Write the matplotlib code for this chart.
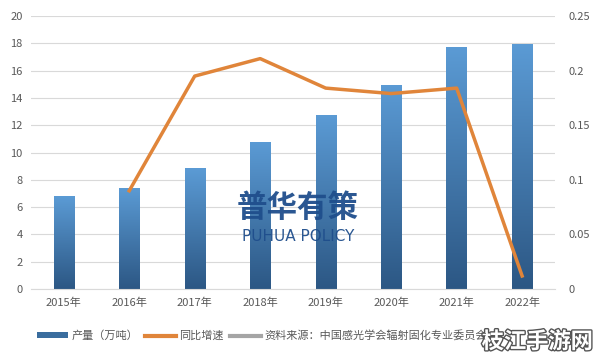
import matplotlib
matplotlib.use("Agg")
import matplotlib.pyplot as plt
import numpy as np
from matplotlib.lines import Line2D
from matplotlib.patches import Patch

plt.rcParams['font.family'] = ['Noto Sans CJK SC', 'DejaVu Sans']

years = ["2015年", "2016年", "2017年", "2018年", "2019年", "2020年", "2021年", "2022年"]
output = [6.8, 7.4, 8.85, 10.8, 12.75, 14.95, 17.75, 17.95]
growth_years = ["2016年", "2017年", "2018年", "2019年", "2020年", "2021年", "2022年"]
growth = [0.09, 0.195, 0.211, 0.184, 0.179, 0.184, 0.012]
left_ticks = [0, 2, 4, 6, 8, 10, 12, 14, 16, 18, 20]
right_ticks = [0, 0.05, 0.1, 0.15, 0.2, 0.25]
right_labels = ["0", "0.05", "0.1", "0.15", "0.2", "0.25"]

fig = plt.figure(figsize=(5.96, 3.56), dpi=100)
ax = fig.add_axes([0.052, 0.188, 0.879, 0.767])
x = np.arange(len(years))
bars = ax.bar(x, output, width=0.31, color='none', edgecolor='none', zorder=2)
ax.set_xlim(-0.5, len(years) - 0.5)
ax.set_ylim(0, 20)
grad = np.linspace(0, 1, 256).reshape(-1, 1)
from matplotlib.colors import LinearSegmentedColormap
cmap = LinearSegmentedColormap.from_list("g", ["#2c5784", "#5b9bd5"])
for b in bars:
    bx, by, bw, bh = b.get_x(), b.get_y(), b.get_width(), b.get_height()
    im = ax.imshow(grad, extent=[bx, bx + bw, by, by + bh], origin='lower',
                   cmap=cmap, aspect='auto', zorder=2)
    im.set_clip_path(b)
ax.set_xlim(-0.5, len(years) - 0.5)
ax.set_ylim(0, 20)
ax.set_yticks(left_ticks)
ax.set_xticks(x)
ax.set_xticklabels(years)
ax.grid(axis='y', color='#d9d9d9', linewidth=0.8, zorder=0)
ax.set_axisbelow(True)
for s in ax.spines.values():
    s.set_visible(False)
ax.spines['bottom'].set_visible(True)
ax.spines['bottom'].set_color('#d9d9d9')
ax.tick_params(axis='both', length=0, labelsize=8, colors='#595959', pad=6)

ax2 = ax.twinx()
gx = [years.index(y) for y in growth_years]
ax2.plot(gx, growth, color='#e0853a', linewidth=2.5, zorder=3)
ax2.set_ylim(0, 0.25)
ax2.set_yticks(right_ticks)
ax2.set_yticklabels(right_labels)
for s in ax2.spines.values():
    s.set_visible(False)
ax2.tick_params(axis='y', length=0, labelsize=8, colors='#595959', pad=10)

fig.text(0.5, 0.415, "普华有策", ha='center', va='center', fontsize=22,
         fontweight='bold', color='#1f4e8c', alpha=0.95)
fig.text(0.5, 0.335, "PUHUA POLICY", ha='center', va='center', fontsize=11,
         color='#1f4e8c', alpha=0.95, family=['DejaVu Sans'])

handles = [Patch(facecolor='#3a6d9e', edgecolor='none'),
           Line2D([0], [0], color='#e0853a', linewidth=3),
           Line2D([0], [0], color='#a5a5a5', linewidth=3)]
labels = ["产量（万吨）", "同比增速", "资料来源：中国感光学会辐射固化专业委员会"]
fig.legend(handles, labels, loc='center left', bbox_to_anchor=(0.045, 0.057),
           ncol=3, frameon=False, fontsize=8, labelcolor='#595959',
           handlelength=2.8, handleheight=0.5, handletextpad=0.3, columnspacing=0.6)

fig.text(0.995, 0.04, "枝江手游网", ha='right', va='center', fontsize=16,
         fontweight='bold', color='white',
         path_effects=[__import__('matplotlib.patheffects', fromlist=['withStroke']).withStroke(linewidth=2, foreground='#555555')])

fig.savefig("out.png", dpi=100)
